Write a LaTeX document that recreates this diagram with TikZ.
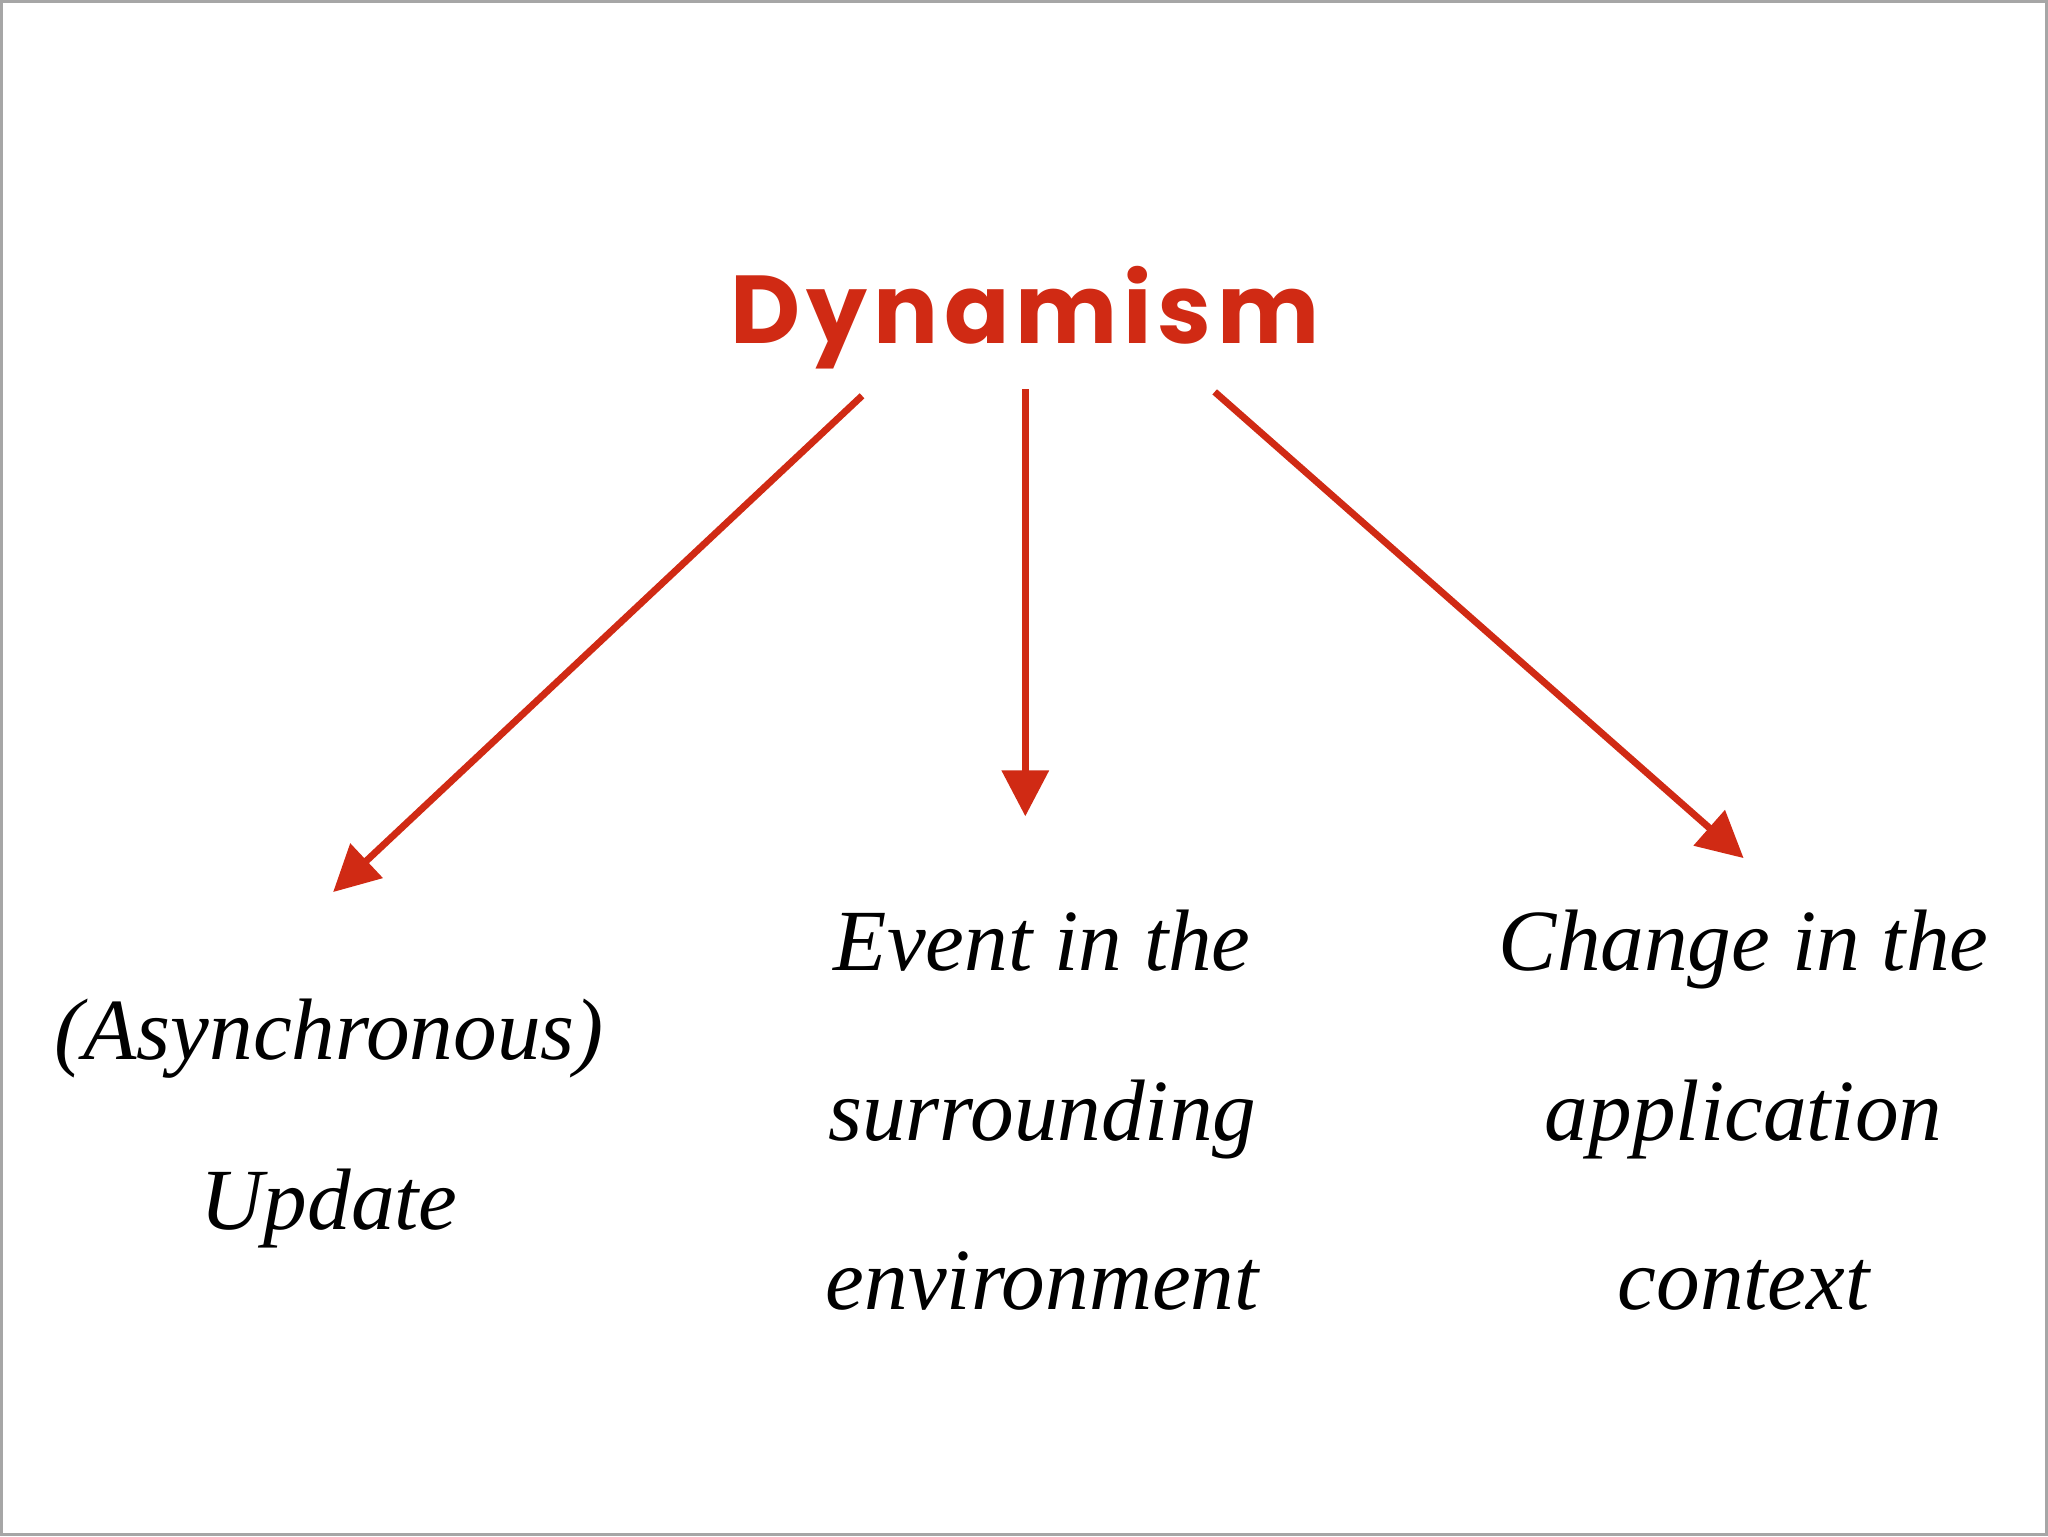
\documentclass[tikz,border=0pt]{standalone}
\usepackage{fontspec}
\setmainfont{Liberation Serif}
\newfontfamily\titlefont{Poppins}
\usetikzlibrary{arrows.meta}
\definecolor{dred}{HTML}{D02A14}
\begin{document}
\begin{tikzpicture}[x=0.01cm,y=-0.01cm,
  arr/.style={draw=dred,line width=1.5pt,-{Triangle[length=10pt,width=10pt]}},
  hand/.style={font=\fontsize{19}{37}\selectfont\itshape,align=center,inner sep=0}]
\draw[gray!70,line width=0.6pt,fill=white] (1,1) rectangle (1567,1175);
\useasboundingbox (0,0) rectangle (1568,1176);
\node[text=dred,font=\fontsize{21}{26}\selectfont\titlefont\bfseries] (title) at (785,243) {\addfontfeature{LetterSpace=6}Dynamism};
\coordinate (s1) at (660,303); \coordinate (e1) at (255,683);
\coordinate (s2) at (785,298); \coordinate (e2) at (785,625);
\coordinate (s3) at (930,300); \coordinate (e3) at (1335,657);
\draw[arr] (s1) -- (e1);
\draw[arr] (s2) -- (e2);
\draw[arr] (s3) -- (e3);
\node[hand] (a) at (252,860) {(Asynchronous)\\Update};
\node[hand] (b) at (798,850) {Event in the\\surrounding\\environment};
\node[hand] (c) at (1335,850) {Change in the\\application\\context};
\end{tikzpicture}
\end{document}
